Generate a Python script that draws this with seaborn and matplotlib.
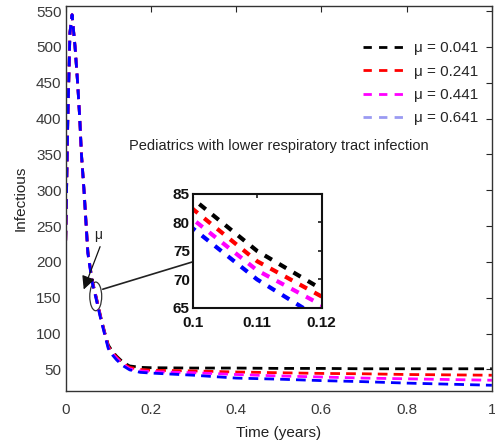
import numpy as np
import pandas as pd
import matplotlib
matplotlib.use("Agg")
import matplotlib.pyplot as plt
import seaborn as sns
from matplotlib.patches import Ellipse
from matplotlib.lines import Line2D

# ---- data ----
time_years = [0, 0.005, 0.01, 0.015, 0.022, 0.028, 0.033, 0.037, 0.043, 0.052,
              0.062, 0.072, 0.082, 0.091, 0.1, 0.11, 0.12, 0.135, 0.15, 0.175,
              0.2, 0.3, 0.4, 0.5, 0.6, 0.7, 0.8, 0.9, 1.0]

mu_labels = ["μ = 0.041", "μ = 0.241", "μ = 0.441", "μ = 0.641"]

inf_mu_0041 = [230, 400, 520, 545, 500, 450, 400, 350, 300, 215, 175, 150, 124, 103,
               84.2, 75.0, 68.3, 60, 55, 53, 52.5, 52, 52, 51.5, 51.5, 51, 51, 51, 51]
inf_mu_0241 = [230, 400, 520, 545, 500, 450, 400, 350, 300, 214, 174, 149, 123, 102,
               82.4, 73.2, 67.0, 58, 53, 50, 49, 48, 46.5, 45.5, 44.5, 44, 43, 42.5, 42]
inf_mu_0441 = [230, 400, 520, 545, 500, 450, 400, 350, 300, 213, 173, 148, 122, 101,
               80.6, 71.6, 65.5, 57, 51, 48, 47, 45.5, 43, 41, 39.5, 38, 37, 36, 35]
inf_mu_0641 = [230, 400, 520, 545, 500, 450, 400, 350, 300, 212, 172, 147, 121, 100,
               79.0, 70.0, 63.0, 55, 49.5, 46, 45, 42, 38, 36.5, 34.5, 33, 31, 29.5, 28]

series = [inf_mu_0041, inf_mu_0241, inf_mu_0441, inf_mu_0641]
line_colors = ["#000000", "#ff0000", "#ff00ff", "#0000ff"]
legend_colors = ["#000000", "#ff0000", "#ff00ff", "#9a9af2"]

x_ticks = [0, 0.2, 0.4, 0.6, 0.8, 1]
x_tick_labels = ["0", "0.2", "0.4", "0.6", "0.8", "1"]
y_ticks = [50, 100, 150, 200, 250, 300, 350, 400, 450, 500, 550]
inset_x_ticks = [0.1, 0.11, 0.12]
inset_y_ticks = [65, 70, 75, 80, 85]

sns.set_theme(style="white")
plt.rcParams["font.family"] = ["Liberation Sans", "DejaVu Sans"]

df = pd.DataFrame({
    "t": np.tile(time_years, 4),
    "I": np.concatenate(series),
    "mu": np.repeat(mu_labels, len(time_years)),
})

fig = plt.figure(figsize=(4.95, 4.47), dpi=100)
ax = fig.add_axes([0.1327, 0.1253, 0.861, 0.861])

dash = (3.5, 2.2)
for lab, col in zip(mu_labels, line_colors):
    sub = df[df["mu"] == lab]
    sns.lineplot(data=sub, x="t", y="I", ax=ax, color=col, lw=2.0,
                 linestyle="--", dashes=False, legend=False)
for l in ax.get_lines():
    l.set_dashes(dash)

ax.set_xlim(0, 1)
ax.set_ylim(20, 557)
ax.set_xticks(x_ticks)
ax.set_xticklabels(x_tick_labels)
ax.set_yticks(y_ticks)
ax.tick_params(direction="in", top=True, right=True, length=4, width=0.8,
               labelsize=11, labelcolor="#3a3a3a", pad=3)
ax.tick_params(axis="x", pad=9)
for s in ax.spines.values():
    s.set_color("#333333")
    s.set_linewidth(1.0)
ax.set_xlabel("Time (years)", fontsize=11, color="#222222", labelpad=6)
ax.set_ylabel("Infectious", fontsize=11, color="#222222", labelpad=6)

handles = [Line2D([0], [0], color=c, lw=2.0, linestyle=(0, (3.0, 2.6))) for c in legend_colors]
ax.legend(handles, mu_labels, loc="upper right", bbox_to_anchor=(1.0, 0.945),
          frameon=False, fontsize=11, handlelength=3.0, handletextpad=0.3,
          labelspacing=0.62)

ax.text(0.50, 0.637, "Pediatrics with lower respiratory tract infection",
        transform=ax.transAxes, ha="center", va="center", fontsize=10.5,
        color="#222222")

# ellipse + connector + mu arrow
ax.add_patch(Ellipse((0.0705, 152), 0.028, 40, fill=False, ec="#333333", lw=0.9))
ax.plot([0.087, 0.297], [162, 200], color="#222222", lw=1.2)
ax.annotate("", xy=(0.040, 158), xytext=(0.083, 225),
            arrowprops=dict(arrowstyle="-|>", color="#111111", lw=0.9,
                            mutation_scale=20))
ax.text(0.076, 237, "μ", fontsize=10, color="#222222", ha="center", va="center")

# inset
axin = fig.add_axes([0.389, 0.311, 0.261, 0.255])
for lab, col in zip(mu_labels, line_colors):
    sub = df[df["mu"] == lab]
    sns.lineplot(data=sub, x="t", y="I", ax=axin, color=col, lw=3.0,
                 linestyle="--", dashes=False, legend=False)
for l in axin.get_lines():
    l.set_dashes((2.0, 2.0))
axin.set_xlim(0.1, 0.12)
axin.set_ylim(65, 85)
axin.set_xticks(inset_x_ticks)
axin.set_xticklabels(["0.1", "0.11", "0.12"])
axin.set_yticks(inset_y_ticks)
axin.set_xlabel("")
axin.set_ylabel("")
axin.tick_params(direction="in", top=True, right=True, length=3, labelsize=11,
                 labelcolor="#111111", pad=2)
axin.tick_params(axis="x", pad=6)
for lbl in axin.get_xticklabels() + axin.get_yticklabels():
    lbl.set_fontweight("bold")
for s in axin.spines.values():
    s.set_color("#111111")
    s.set_linewidth(1.5)

fig.savefig("out.png", dpi=100)
